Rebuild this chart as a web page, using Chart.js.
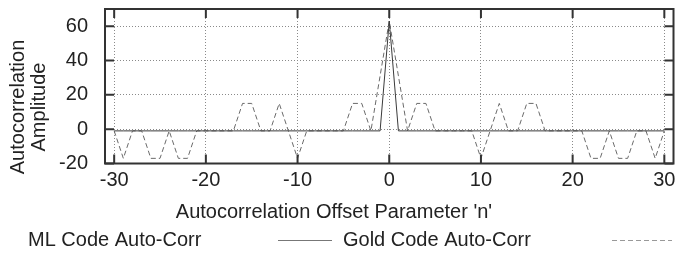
<!DOCTYPE html>
<html>
<head>
<meta charset="utf-8">
<title>Autocorrelation</title>
<script src="https://cdn.jsdelivr.net/npm/chart.js@4.4.1/dist/chart.umd.min.js"></script>
<style>
    html, body { margin: 0; padding: 0; background: #fff; }
    #wrap { width: 675px; height: 253px; }
</style>
</head>
<body>
<div id="wrap"><canvas id="acChart" width="675" height="253"></canvas></div>
<script>
// offsets n on the x axis
const offsets = [
    -30, -29, -28, -27, -26, -25, -24, -23, -22, -21,
    -20, -19, -18, -17, -16, -15, -14, -13, -12, -11,
    -10, -9, -8, -7, -6, -5, -4, -3, -2, -1,
    0,
    1, 2, 3, 4, 5, 6, 7, 8, 9, 10,
    11, 12, 13, 14, 15, 16, 17, 18, 19, 20,
    21, 22, 23, 24, 25, 26, 27, 28, 29, 30
];

// ML code: peak at 0, -1 everywhere else
const mlCodeValues = [
    -1, -1, -1, -1, -1, -1, -1, -1, -1, -1,
    -1, -1, -1, -1, -1, -1, -1, -1, -1, -1,
    -1, -1, -1, -1, -1, -1, -1, -1, -1, -1,
    63,
    -1, -1, -1, -1, -1, -1, -1, -1, -1, -1,
    -1, -1, -1, -1, -1, -1, -1, -1, -1, -1,
    -1, -1, -1, -1, -1, -1, -1, -1, -1, -1
];

// Gold code
const goldCodeValues = [
    -1, -17, -1, -1, -17, -17, -1, -17, -17, -1,
    -1, -1, -1, -1, 15, 15, -1, -1, 15, -1,
    -17, -1, -1, -1, -1, -1, 15, 15, -1, 31,
    63,
    31, -1, 15, 15, -1, -1, -1, -1, -1, -17,
    -1, 15, -1, -1, 15, 15, -1, -1, -1, -1,
    -1, -17, -17, -1, -17, -17, -1, -1, -17, -1
];

const xTickValues = [-30, -20, -10, 0, 10, 20, 30];
const yTickValues = [-20, 0, 20, 40, 60];
const seriesNames = ["ML Code Auto-Corr", "Gold Code Auto-Corr"];
const xTitle = "Autocorrelation Offset Parameter 'n'";
const yTitle = ["Autocorrelation", "Amplitude"];

const FONT = '"Liberation Sans", Arial, sans-serif';
const TEXT_COLOR = "#222";

function toPoints(values) {
    return offsets.map((n, i) => ({ x: n, y: values[i] }));
}

/**
 * Draws the gnuplot-like frame with inward ticks, the axis titles and the key.
 */
const frameAndKey = {
    id: "frameAndKey",
    afterDraw(chart) {
        const ctx = chart.ctx;
        const area = chart.chartArea;
        const xs = chart.scales.x;
        const ys = chart.scales.y;
        ctx.save();

        // frame
        ctx.strokeStyle = "#333";
        ctx.lineWidth = 2;
        ctx.strokeRect(area.left, area.top, area.right - area.left, area.bottom - area.top);

        // inward tick marks, mirrored on top and right
        ctx.beginPath();
        xTickValues.forEach((v) => {
            const px = xs.getPixelForValue(v);
            ctx.moveTo(px, area.bottom);
            ctx.lineTo(px, area.bottom - 9);
            ctx.moveTo(px, area.top);
            ctx.lineTo(px, area.top + 9);
        });
        yTickValues.forEach((v) => {
            const py = ys.getPixelForValue(v);
            ctx.moveTo(area.left, py);
            ctx.lineTo(area.left + 9, py);
            ctx.moveTo(area.right, py);
            ctx.lineTo(area.right - 9, py);
        });
        ctx.stroke();

        // axis titles
        ctx.fillStyle = TEXT_COLOR;
        ctx.font = "20px " + FONT;
        ctx.textAlign = "center";
        ctx.textBaseline = "middle";
        ctx.fillText(xTitle, 334, 212);

        ctx.save();
        ctx.translate(18, 107);
        ctx.rotate(-Math.PI / 2);
        ctx.fillText(yTitle[0], 0, 0);
        ctx.fillText(yTitle[1], 0, 21);
        ctx.restore();

        // key: title first, then the line sample
        const keyY = 240;
        const keyItems = [
            { textX: 28, lineFrom: 278, lineTo: 332 },
            { textX: 343, lineFrom: 612, lineTo: 672 },
        ];
        ctx.textAlign = "left";
        keyItems.forEach((item, i) => {
            const ds = chart.data.datasets[i];
            ctx.fillStyle = TEXT_COLOR;
            ctx.fillText(seriesNames[i], item.textX, keyY);
            ctx.beginPath();
            ctx.strokeStyle = i === 0 ? "#777" : "#999";
            ctx.lineWidth = ds.borderWidth;
            ctx.setLineDash(ds.borderDash || []);
            ctx.moveTo(item.lineFrom, keyY + 0.5);
            ctx.lineTo(item.lineTo, keyY + 0.5);
            ctx.stroke();
        });
        ctx.setLineDash([]);
        ctx.restore();
    },
};

const acChart = new Chart(document.getElementById("acChart").getContext("2d"), {
    type: "line",
    data: {
        datasets: [
            {
                label: seriesNames[0],
                data: toPoints(mlCodeValues),
                borderColor: "#3a3a3a",
                borderWidth: 1,
                pointRadius: 0,
                tension: 0,
                fill: false,
            },
            {
                label: seriesNames[1],
                data: toPoints(goldCodeValues),
                borderColor: "#6a6a6a",
                borderWidth: 1,
                borderDash: [5, 3],
                pointRadius: 0,
                tension: 0,
                fill: false,
            },
        ],
    },
    options: {
        responsive: false,
        animation: false,
        layout: {
            padding: { left: 0, right: 1.5, top: 9, bottom: 0 },
        },
        plugins: {
            legend: { display: false },
            tooltip: { enabled: false },
        },
        scales: {
            x: {
                type: "linear",
                min: -31,
                max: 31,
                afterBuildTicks: (scale) => {
                    scale.ticks = xTickValues.map((v) => ({ value: v }));
                },
                afterFit: (scale) => {
                    scale.height = 89.5;
                    scale.paddingLeft = 0;
                    scale.paddingRight = 0;
                },
                grid: {
                    color: "#8a8a8a",
                    lineWidth: 1,
                    drawTicks: false,
                },
                border: { display: false, dash: [1, 2] },
                ticks: {
                    padding: 5,
                    color: TEXT_COLOR,
                    font: { family: FONT, size: 20 },
                    maxRotation: 0,
                },
            },
            y: {
                min: -20,
                max: 70,
                afterBuildTicks: (scale) => {
                    scale.ticks = yTickValues.map((v) => ({ value: v }));
                },
                afterFit: (scale) => {
                    scale.width = 105;
                    scale.paddingTop = 0;
                    scale.paddingBottom = 0;
                },
                grid: {
                    color: "#8a8a8a",
                    lineWidth: 1,
                    drawTicks: false,
                },
                border: { display: false, dash: [1, 2] },
                ticks: {
                    padding: 17,
                    color: TEXT_COLOR,
                    font: { family: FONT, size: 20 },
                },
            },
        },
    },
    plugins: [frameAndKey],
});
</script>
</body>
</html>
